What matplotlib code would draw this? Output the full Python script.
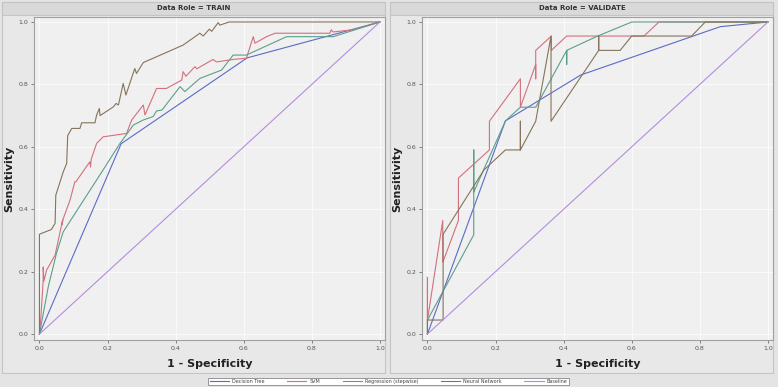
import matplotlib
matplotlib.use("Agg")
import matplotlib.pyplot as plt
from matplotlib.patches import Rectangle

# ---- données ----
modeles = ["Decision Tree", "SVM", "Regression (stepwise)", "Neural Network", "Baseline"]
couleurs = ["#5b6bc6", "#d2707c", "#5c9e8a", "#857458", "#b58ce0"]

# TRAIN
train_dt_x = [0.0, 0.24, 0.61, 1.0]
train_dt_y = [0.0, 0.61, 0.885, 1.0]
train_svm_x = [0.0, 0.004, 0.011, 0.011, 0.013, 0.021, 0.046, 0.068, 0.066, 0.07, 0.09, 0.104, 0.107,
               0.148, 0.15, 0.152, 0.168, 0.187, 0.256, 0.271, 0.305, 0.31, 0.344, 0.373, 0.418, 0.422,
               0.43, 0.457, 0.462, 0.51, 0.52, 0.569, 0.608, 0.628, 0.633, 0.667, 0.692, 0.853, 0.857,
               0.862, 0.92, 1.0]
train_svm_y = [0.0, 0.05, 0.173, 0.215, 0.17, 0.205, 0.253, 0.365, 0.35, 0.37, 0.43, 0.488, 0.488,
               0.552, 0.535, 0.56, 0.611, 0.632, 0.643, 0.686, 0.734, 0.702, 0.787, 0.787, 0.814, 0.841,
               0.826, 0.857, 0.85, 0.88, 0.872, 0.88, 0.884, 0.953, 0.932, 0.953, 0.964, 0.964, 0.975,
               0.968, 0.975, 1.0]
train_reg_x = [0.0, 0.026, 0.05, 0.07, 0.187, 0.236, 0.276, 0.305, 0.334, 0.344, 0.36, 0.413, 0.427,
               0.471, 0.535, 0.569, 0.608, 0.726, 0.863, 1.0]
train_reg_y = [0.0, 0.152, 0.259, 0.328, 0.526, 0.61, 0.67, 0.686, 0.697, 0.715, 0.718, 0.793, 0.777,
               0.819, 0.846, 0.894, 0.894, 0.953, 0.953, 1.0]
train_nn_x = [0.0, 0.0, 0.035, 0.046, 0.048, 0.07, 0.08, 0.083, 0.095, 0.119, 0.124, 0.163, 0.168,
              0.176, 0.178, 0.217, 0.225, 0.232, 0.246, 0.254, 0.28, 0.285, 0.305, 0.422, 0.471, 0.481,
              0.499, 0.506, 0.525, 0.53, 0.557, 1.0]
train_nn_y = [0.0, 0.32, 0.335, 0.355, 0.445, 0.52, 0.547, 0.636, 0.659, 0.659, 0.677, 0.677, 0.702,
              0.723, 0.70, 0.728, 0.739, 0.734, 0.803, 0.766, 0.851, 0.835, 0.87, 0.926, 0.964, 0.955,
              0.977, 0.97, 0.998, 0.99, 1.0, 1.0]

# VALIDATE
val_dt_x = [0.0, 0.229, 0.45, 0.86, 1.0]
val_dt_y = [0.0, 0.683, 0.83, 0.985, 1.0]
val_svm_x = [0.0, 0.0, 0.0, 0.045, 0.045, 0.091, 0.091, 0.091, 0.182, 0.182, 0.273, 0.273, 0.318,
             0.318, 0.318, 0.364, 0.364, 0.409, 0.636, 0.68, 1.0]
val_svm_y = [0.0, 0.182, 0.045, 0.364, 0.23, 0.364, 0.5, 0.5, 0.59, 0.682, 0.818, 0.727, 0.864,
             0.818, 0.909, 0.955, 0.909, 0.955, 0.955, 1.0, 1.0]
val_reg_x = [0.0, 0.0, 0.136, 0.136, 0.136, 0.229, 0.273, 0.318, 0.409, 0.409, 0.409, 0.5, 0.6, 1.0]
val_reg_y = [0.0, 0.045, 0.318, 0.59, 0.455, 0.683, 0.727, 0.727, 0.909, 0.864, 0.909, 0.955, 1.0, 1.0]
val_nn_x = [0.0, 0.0, 0.046, 0.046, 0.166, 0.229, 0.273, 0.273, 0.273, 0.318, 0.363, 0.363, 0.503,
            0.503, 0.503, 0.566, 0.6, 0.776, 0.816, 1.0]
val_nn_y = [0.0, 0.045, 0.045, 0.32, 0.526, 0.59, 0.59, 0.682, 0.59, 0.682, 0.955, 0.682, 0.909,
            0.955, 0.909, 0.909, 0.955, 0.955, 1.0, 1.0]

base_x = [0.0, 1.0]
base_y = [0.0, 1.0]

roles = ["TRAIN", "VALIDATE"]
courbes = {
    "TRAIN": [(train_dt_x, train_dt_y), (train_svm_x, train_svm_y), (train_reg_x, train_reg_y),
              (train_nn_x, train_nn_y), (base_x, base_y)],
    "VALIDATE": [(val_dt_x, val_dt_y), (val_svm_x, val_svm_y), (val_reg_x, val_reg_y),
                 (val_nn_x, val_nn_y), (base_x, base_y)],
}
ticks = [0.0, 0.2, 0.4, 0.6, 0.8, 1.0]

W, H = 778, 387
fig = plt.figure(figsize=(W / 100, H / 100), dpi=100)
fig.patch.set_facecolor("#e4e4e4")


def px_rect(x0, y0, w, h, **kw):
    """rectangle en pixels (origine en haut à gauche), dessiné sous les axes"""
    r = Rectangle((x0 / W, 1 - (y0 + h) / H), w / W, h / H, transform=fig.transFigure,
                  zorder=-5, **kw)
    fig.patches.append(r)


lignes = []
for i, role in enumerate(roles):
    off = 388 * i
    # fond du panneau + barre de titre
    px_rect(off + 2, 2, 383, 371, facecolor="#e8e8e8", edgecolor="#c4c4c4", lw=0.8)
    px_rect(off + 2, 2, 383, 13, facecolor="#d9d9d9", edgecolor="#c4c4c4", lw=0.8)
    fig.text((off + 194) / W, 1 - 8.5 / H, f"Data Role = {role}", ha="center", va="center",
             fontsize=5, fontweight="bold", color="#333333")

    ax = fig.add_axes([(off + 34) / W, 1 - 340 / H, 351 / W, 323 / H])
    ax.set_facecolor("#f0f0f0")
    ax.set_xlim(-0.016, 1.015)
    ax.set_ylim(-0.019, 1.016)
    ax.set_xticks(ticks)
    ax.set_yticks(ticks)
    ax.set_xticklabels([f"{t:.1f}" for t in ticks])
    ax.set_yticklabels([f"{t:.1f}" for t in ticks])
    ax.tick_params(labelsize=4.5, colors="#555555", length=2, width=0.5, pad=2)
    ax.grid(True, color="#fafafa", lw=0.8)
    ax.set_axisbelow(True)
    for s in ax.spines.values():
        s.set_color("#a0a0a0")
        s.set_linewidth(0.8)
    for (xs, ys), col, nom in zip(courbes[role], couleurs, modeles):
        l, = ax.plot(xs, ys, color=col, lw=0.8, label=nom)
        if i == 0:
            lignes.append(l)
    ax.set_xlabel("1 - Specificity", fontsize=8, fontweight="bold", color="#222222", labelpad=6)
    ax.set_ylabel("Sensitivity", fontsize=8, fontweight="bold", color="#222222", labelpad=3)

leg = fig.legend(handles=lignes, labels=modeles, loc="center", ncol=5,
                 bbox_to_anchor=(388.5 / W, 1 - 381.5 / H), fontsize=3.5, frameon=True,
                 fancybox=False, handlelength=4, columnspacing=4.6, handletextpad=0.6,
                 borderpad=0.3, framealpha=1)
leg.get_frame().set_edgecolor("#888888")
leg.get_frame().set_linewidth(0.6)
for t in leg.get_texts():
    t.set_color("#444444")

fig.savefig("out.png", dpi=100, facecolor=fig.get_facecolor())
